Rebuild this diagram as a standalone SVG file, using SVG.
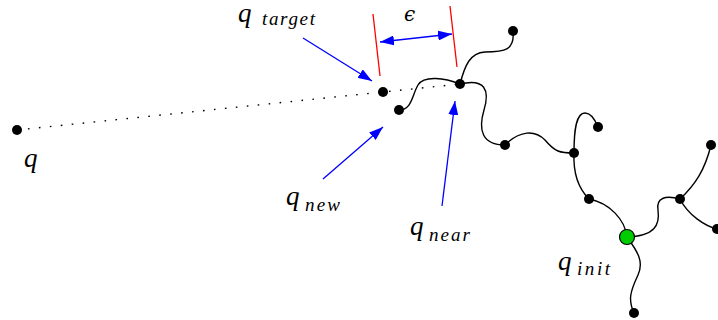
<svg xmlns="http://www.w3.org/2000/svg" width="718" height="320" viewBox="0 0 718 320">
<style>
.edge{fill:none;stroke:#000;stroke-width:1.4}
.dot{fill:#000}
.blue{stroke:#0000ff;stroke-width:1.3;fill:none}
.red{stroke:#ff0000;stroke-width:1.3}
</style>
<defs>
<marker id="ah" markerUnits="userSpaceOnUse" markerWidth="15" markerHeight="10" refX="14" refY="5" orient="auto-start-reverse">
<path d="M0,0 L14,5 L0,10 z" fill="#0000ff"/>
</marker>
</defs>
<rect width="718" height="320" fill="#fff"/>
<g id="connectors">
<path class="edge" d="M17,130 L460,84" stroke-dasharray="1.6 9.4" stroke-width="1.6"/>
<path class="edge" d="M399,110 C412,110 412,95 418,85 C424,75 445,78 460,84"/>
<path class="edge" d="M460,84 C465,65 470,53 485,52 C505,52 515,50 513,31"/>
<path class="edge" d="M460,84 C485,78 490,90 484,110 C478,130 482,145 505,145"/>
<path class="edge" d="M505,145 C520,130 535,130 545,140 C555,152 560,153 574,153"/>
<path class="edge" d="M574,153 C574,130 576,113 585,113 C592,113 596,122 598,127"/>
<path class="edge" d="M574,153 C573,175 580,190 589,199"/>
<path class="edge" d="M589,199 C610,203 625,220 627,237"/>
<path class="edge" d="M627,237 C655,236 660,225 658,210 C656,198 665,195 680,199"/>
<path class="edge" d="M680,199 C695,185 705,170 711,145"/>
<path class="edge" d="M680,199 C688,215 705,226 717,229"/>
<path class="edge" d="M627,237 C638,252 644,262 638,275 C630,292 628,300 634,313"/>
<line class="red" x1="373" y1="14" x2="380" y2="76"/>
<line class="red" x1="450" y1="6" x2="457" y2="67"/>
<line class="blue" x1="380" y1="42" x2="452" y2="34" marker-start="url(#ah)" marker-end="url(#ah)"/>
<line class="blue" x1="303" y1="38" x2="372" y2="81" marker-end="url(#ah)"/>
<line class="blue" x1="323" y1="179" x2="383" y2="127" marker-end="url(#ah)"/>
<line class="blue" x1="442" y1="206" x2="455" y2="101" marker-end="url(#ah)"/>
</g>
<g id="node-q"><circle class="dot" cx="17" cy="130" r="5"/></g>
<g id="node-qtarget"><circle class="dot" cx="383" cy="92" r="5"/></g>
<g id="node-qnew"><circle class="dot" cx="399" cy="110" r="5"/></g>
<g id="node-qnear"><circle class="dot" cx="460" cy="84" r="5"/></g>
<g id="node-n1"><circle class="dot" cx="513" cy="31" r="5"/></g>
<g id="node-n2"><circle class="dot" cx="505" cy="145" r="5"/></g>
<g id="node-n3"><circle class="dot" cx="574" cy="153" r="5"/></g>
<g id="node-n4"><circle class="dot" cx="598" cy="127" r="5"/></g>
<g id="node-n5"><circle class="dot" cx="589" cy="199" r="5"/></g>
<g id="node-n6"><circle class="dot" cx="680" cy="199" r="5"/></g>
<g id="node-n7"><circle class="dot" cx="711" cy="145" r="5"/></g>
<g id="node-n8"><circle class="dot" cx="717" cy="229" r="5"/></g>
<g id="node-n9"><circle class="dot" cx="634" cy="313" r="5"/></g>
<g id="node-qinit"><circle cx="627" cy="237" r="7.5" fill="#00cc00" stroke="#000" stroke-width="1.2"/></g>
<g id="labels" font-family="Liberation Serif, DejaVu Serif, serif" font-style="italic" fill="#000">
<text x="24" y="167" font-size="27">q</text>
<text x="238" y="22" font-size="27">q</text><text x="262" y="25" font-size="19" textLength="53" lengthAdjust="spacing">target</text>
<text x="286" y="205" font-size="27">q</text><text x="305" y="211" font-size="19" textLength="35" lengthAdjust="spacing">new</text>
<text x="410" y="235" font-size="27">q</text><text x="429" y="241" font-size="19" textLength="41" lengthAdjust="spacing">near</text>
<text x="558" y="270" font-size="27">q</text><text x="577" y="275" font-size="19" textLength="33" lengthAdjust="spacing">init</text>
<text x="404" y="21" font-family="DejaVu Serif, serif" font-size="20">ϵ</text>
</g>
</svg>
